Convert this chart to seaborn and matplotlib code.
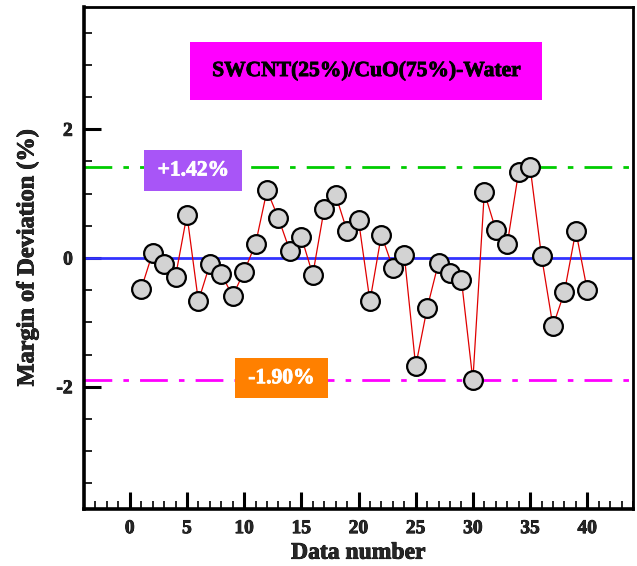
import numpy as np
import pandas as pd
import matplotlib
matplotlib.use("Agg")
import matplotlib.pyplot as plt
import matplotlib.patheffects as pe
from matplotlib.patches import Rectangle
import seaborn as sns
from matplotlib.ticker import MultipleLocator

# Margin of deviation for each data point
data_number = list(range(1, 41))
deviation = [-0.48, 0.08, -0.10, -0.29, 0.67, -0.67, -0.10, -0.25, -0.59, -0.21,
             0.22, 1.05, 0.62, 0.11, 0.33, -0.26, 0.76, 0.98, 0.42, 0.59,
             -0.67, 0.36, -0.15, 0.05, -1.68, -0.78, -0.07, -0.24, -0.34, -1.90,
             1.02, 0.44, 0.21, 1.34, 1.42, 0.03, -1.06, -0.53, 0.42, -0.50]
upper_bound = 1.42
lower_bound = -1.90
title_text = "SWCNT(25%)/CuO(75%)-Water"
upper_text = "+1.42%"
lower_text = "-1.90%"

df = pd.DataFrame({"n": data_number, "dev": deviation})

sns.set_theme(style="white")
plt.rcParams["font.family"] = ["Liberation Serif", "DejaVu Serif"]
plt.rcParams["font.weight"] = "bold"
plt.rcParams["axes.unicode_minus"] = False

fig = plt.figure(figsize=(6.37, 5.66), dpi=100)
ax = fig.add_axes([84 / 637, 1 - 509 / 566, (633 - 84) / 637, (509 - 7) / 566])

ax.axhline(0, color="#3333ff", lw=2, zorder=1)
ax.axhline(upper_bound, color="#00cc00", lw=2, dashes=(10, 4, 2, 4), zorder=1)
ax.axhline(lower_bound, color="#ff00ff", lw=2, dashes=(10, 4, 2, 4), zorder=1)

sns.lineplot(data=df, x="n", y="dev", ax=ax, color="#e00000", lw=0.9,
             marker="o", markersize=13.5, markerfacecolor="#d3d3d3",
             markeredgecolor="black", markeredgewidth=1.6, zorder=3)

ax.set_xlim(-4, 44)
ax.set_ylim(-3.9, 3.9)
ax.xaxis.set_major_locator(MultipleLocator(5))
ax.xaxis.set_minor_locator(MultipleLocator(1))
ax.yaxis.set_major_locator(MultipleLocator(2))
ax.yaxis.set_minor_locator(MultipleLocator(0.5))
ax.set_xticks([0, 5, 10, 15, 20, 25, 30, 35, 40])
ax.tick_params(axis="both", which="major", direction="in", length=12, width=2.2,
               labelsize=14, color="black", pad=8, left=True, bottom=True)
ax.tick_params(axis="both", which="minor", direction="in", length=6, width=1.2,
               color="black", left=True, bottom=True)

bold_fx = [pe.withStroke(linewidth=0.6, foreground="black")]
for lab in ax.get_xticklabels() + ax.get_yticklabels():
    lab.set_fontweight("bold")
    lab.set_path_effects(bold_fx)

for side, w in [("left", 2.6), ("bottom", 2.6), ("right", 2.0), ("top", 2.0)]:
    ax.spines[side].set_visible(True)
    ax.spines[side].set_color("black")
    ax.spines[side].set_linewidth(w)

ax.set_xlabel("Data number", fontsize=17, fontweight="bold", labelpad=4,
              path_effects=bold_fx)
ax.set_ylabel("Margin of Deviation (%)", fontsize=17.5, fontweight="bold", labelpad=13,
              path_effects=bold_fx)

# Annotation boxes: (x0, x1, y0, y1) in data units, colour, label
boxes = [
    ((5.3, 36.05, 2.46, 3.35), "#ff00ff", title_text, "black"),
    ((1.28, 9.82, 1.04, 1.68), "#a855f7", upper_text, "white"),
    ((9.21, 17.32, -2.18, -1.556), "#ff8000", lower_text, "white"),
]
for (x0, x1, y0, y1), fc, txt, tc in boxes:
    ax.add_patch(Rectangle((x0, y0), x1 - x0, y1 - y0, fc=fc, ec="none", zorder=5))
    ax.text((x0 + x1) / 2, (y0 + y1) / 2, txt, fontsize=15.5, fontweight="bold",
            color=tc, ha="center", va="center", zorder=6,
            path_effects=[pe.withStroke(linewidth=0.6, foreground=tc)])

fig.savefig("out.png", dpi=100)
